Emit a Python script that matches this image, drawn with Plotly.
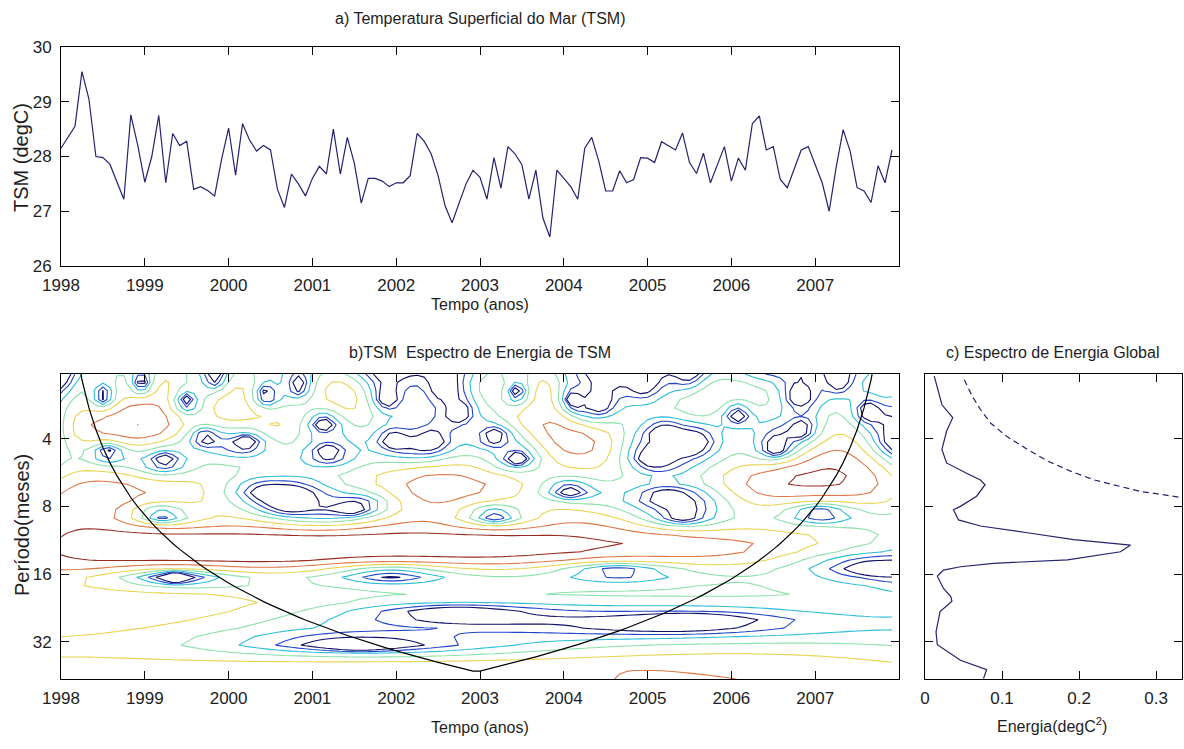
import numpy as np
import plotly.graph_objects as go

W, H = 1184, 749

# ---------------- data ----------------
# a) monthly sea surface temperature, Jan 1998 .. Dec 2007 (degC)
tsm = [
    28.15, 28.35, 28.55, 29.55, 29.05, 28.00, 27.98, 27.86, 27.55, 27.22, 28.76, 28.20,   # 1998
    27.53, 28.00, 28.75, 27.52, 28.42, 28.20, 28.28, 27.40, 27.45, 27.38, 27.28, 27.95,   # 1999
    28.52, 27.66, 28.60, 28.30, 28.10, 28.20, 28.12, 27.40, 27.07, 27.68, 27.50, 27.28,   # 2000
    27.60, 27.82, 27.68, 28.50, 27.68, 28.35, 27.88, 27.15, 27.60, 27.60, 27.55, 27.45,   # 2001
    27.52, 27.52, 27.65, 28.42, 28.28, 28.05, 27.65, 27.10, 26.79, 27.15, 27.50, 27.75,   # 2002
    27.62, 27.22, 27.98, 27.42, 28.18, 28.05, 27.85, 27.22, 27.75, 26.88, 26.53, 27.75,   # 2003
    27.60, 27.45, 27.22, 28.15, 28.35, 27.92, 27.37, 27.37, 27.74, 27.52, 27.58, 27.98,   # 2004
    27.97, 27.89, 28.27, 28.20, 28.12, 28.43, 27.89, 27.69, 28.06, 27.52, 27.86, 28.18,   # 2005
    27.55, 27.97, 27.75, 28.60, 28.74, 28.12, 28.18, 27.58, 27.43, 27.77, 28.12, 28.18,   # 2006
    27.86, 27.52, 27.00, 27.80, 28.49, 28.10, 27.43, 27.37, 27.16, 27.83, 27.52, 28.12,   # 2007
]
start_year = 1998
year_ticks = list(range(1998, 2008))

# c) global wavelet spectrum (solid) and significance level (dashed)
gws_period = [2.11, 2.83, 3.23, 3.71, 4.47, 5.13, 5.70, 6.11, 6.41, 7.21, 8.00, 8.28,
              9.19, 9.78, 10.48, 11.24, 11.88, 12.73, 13.83, 14.32, 14.83, 15.35, 16.34,
              18.51, 20.11, 21.11, 23.43, 28.84, 32.90, 38.58, 42.52, 46.50]
gws_energy = [0.012, 0.022, 0.036, 0.028, 0.022, 0.028, 0.054, 0.072, 0.078, 0.067, 0.046, 0.037,
              0.0435, 0.072, 0.133, 0.193, 0.267, 0.254, 0.185, 0.089, 0.046, 0.024, 0.016,
              0.024, 0.0335, 0.035, 0.0196, 0.0143, 0.016, 0.046, 0.080, 0.076]
sig_period = [2.19, 2.58, 2.97, 3.41, 3.92, 4.47, 5.03, 5.58, 6.11, 6.50, 6.87, 7.11, 7.31]
sig_energy = [0.051, 0.061, 0.072, 0.085, 0.1065, 0.133, 0.159, 0.189, 0.22, 0.25, 0.28, 0.311, 0.332]

period_ticks = [4, 8, 16, 32]
energy_ticks = [0, 0.1, 0.2, 0.3]
power_levels = [0.0625, 0.125, 0.25, 0.5, 1, 2, 4, 8, 16]

# ---------------- wavelet transform of the TSM series (Torrence & Compo, Morlet) -------------
sst = np.array(tsm, dtype=float)
n = len(sst)
dt = 1.0                      # months
time = start_year + np.arange(n) / 12.0
dj, s0, J1, k0 = 0.125, 2 * dt, 36, 6.0

x = (sst - sst.mean()) / sst.std(ddof=1)
base2 = int(np.fix(np.log2(n) + 0.4999))
xp = np.concatenate([x, np.zeros(2 ** (base2 + 1) - n)])
npad = len(xp)
kplus = np.arange(1, npad // 2 + 1) * (2 * np.pi / (npad * dt))
kk = np.concatenate([[0.0], kplus, -kplus[:(npad - 1) // 2][::-1]])
fx = np.fft.fft(xp)
scale = s0 * 2.0 ** (np.arange(J1 + 1) * dj)
wave = np.zeros((J1 + 1, npad), dtype=complex)
for a, s in enumerate(scale):
    expnt = -((s * kk - k0) ** 2) / 2 * (kk > 0)
    norm = np.sqrt(s * kk[1]) * np.pi ** (-0.25) * np.sqrt(npad)
    wave[a] = np.fft.ifft(fx * norm * np.exp(expnt) * (kk > 0))
wave = wave[:, :n]
fourier_factor = 4 * np.pi / (k0 + np.sqrt(2 + k0 ** 2))
period = fourier_factor * scale
power = np.abs(wave) ** 2
coi = fourier_factor / np.sqrt(2) * dt * np.concatenate(
    [[1e-5], np.arange(1, int((n + 1) / 2 - 1) + 1), np.arange(int(n / 2 - 1), 0, -1), [1e-5]])

ylo, yhi = np.log2(period.min()), np.log2(period.max())

# contour levels actually drawn set the colour limits (as MATLAB does)
lv = np.log2(power_levels)
zlog = np.log2(power)
drawn = lv[(lv >= zlog.min()) & (lv <= zlog.max())]
cmin, cmax = float(drawn.min()), float(drawn.max())

# ---------------- figure ----------------
NAVY = "#23236f"
FONT = "Liberation Sans, Arial, sans-serif"
TXT = "#1e1e1e"

line_scale = [[0.0, "rgb(15,15,105)"], [0.167, "rgb(35,70,200)"], [0.333, "rgb(45,190,215)"],
              [0.5, "rgb(140,225,170)"], [0.667, "rgb(232,212,80)"], [0.833, "rgb(222,120,70)"],
              [1.0, "rgb(150,45,35)"]]

fig = go.Figure()

fig.add_trace(go.Scatter(x=time, y=sst, mode="lines", line=dict(color=NAVY, width=1.2),
                         xaxis="x", yaxis="y", showlegend=False))

fig.add_trace(go.Contour(x=time, y=np.log2(period), z=zlog, xaxis="x2", yaxis="y2",
                         contours=dict(coloring="lines", start=lv[0], end=lv[-1], size=1),
                         colorscale=line_scale, zmin=cmin, zmax=cmax, zauto=False,
                         line=dict(width=1.1, smoothing=0), showscale=False, hoverinfo="skip"))
fig.add_trace(go.Scatter(x=time, y=np.log2(coi), mode="lines", line=dict(color="black", width=1.2),
                         xaxis="x2", yaxis="y2", showlegend=False))

fig.add_trace(go.Scatter(x=gws_energy, y=np.log2(gws_period), mode="lines",
                         line=dict(color=NAVY, width=1.2), xaxis="x3", yaxis="y3", showlegend=False))
fig.add_trace(go.Scatter(x=sig_energy, y=np.log2(sig_period), mode="lines",
                         line=dict(color=NAVY, width=1.2, dash="6px,4px"), xaxis="x3", yaxis="y3",
                         showlegend=False))


def dom_x(a, b):
    return [a / W, b / W]


def dom_y(top, bot):
    return [1 - bot / H, 1 - top / H]


common = dict(showline=True, linecolor="black", linewidth=1, mirror="ticks", ticks="inside",
              ticklen=8, tickcolor="black", showgrid=False, zeroline=False, automargin=False,
              tickfont=dict(family=FONT, size=17, color=TXT))
xcommon = dict(common, ticklabelstandoff=4)
ycommon = dict(common, ticklabelstandoff=5)

fig.update_layout(
    width=W, height=H, margin=dict(l=0, r=0, t=0, b=0, autoexpand=False),
    paper_bgcolor="white", plot_bgcolor="white", showlegend=False,
    xaxis=dict(domain=dom_x(61, 899), range=[1998, 2008], tickvals=year_ticks, anchor="y", **xcommon),
    yaxis=dict(domain=dom_y(47, 266), range=[26, 30], tickvals=[26, 27, 28, 29, 30], anchor="x", **ycommon),
    xaxis2=dict(domain=dom_x(61, 899), range=[1998, 2008], tickvals=year_ticks, anchor="y2", **xcommon),
    yaxis2=dict(domain=dom_y(374, 679), range=[yhi, ylo], tickvals=np.log2(period_ticks),
                ticktext=[str(p) for p in period_ticks], anchor="x2", **ycommon),
    xaxis3=dict(domain=dom_x(925, 1182), range=[0, 1.25 * max(gws_energy)], tickvals=energy_ticks,
                ticktext=["0", "0.1", "0.2", "0.3"], anchor="y3", **xcommon),
    yaxis3=dict(domain=dom_y(374, 679), range=[yhi, ylo], tickvals=np.log2(period_ticks),
                showticklabels=False, anchor="x3", **ycommon),
)


def label(text, px, py, size=16, angle=0):
    fig.add_annotation(text=text, x=px / W, y=1 - py / H, xref="paper", yref="paper",
                       showarrow=False, textangle=angle, xanchor="center", yanchor="middle",
                       font=dict(family=FONT, size=size, color=TXT))


label("a) Temperatura Superficial do Mar (TSM)", 480, 19)
label("Tempo (anos)", 480, 304)
label("TSM (degC)", 21, 158, size=20, angle=-90)
label("b)TSM  Espectro de Energia de TSM", 480, 352)
label("Tempo (anos)", 480, 727)
label("Período(meses)", 22, 525, size=20, angle=-90)
label("c) Espectro de Energia Global", 1052, 352)
label("Energia(degC<sup>2</sup>)", 1052, 725)

fig.write_html("out.html", config={"displayModeBar": False},
               post_script="document.body.style.margin='0px';document.body.style.padding='0px';")
